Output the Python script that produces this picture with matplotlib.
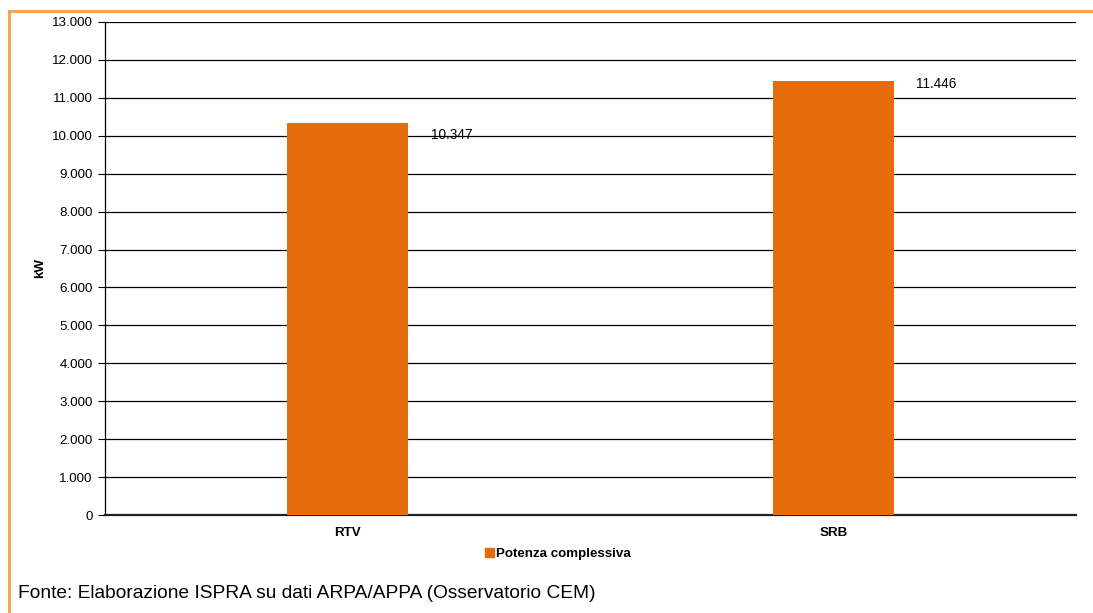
import matplotlib
matplotlib.use("Agg")
import matplotlib.pyplot as plt
from matplotlib.lines import Line2D
from matplotlib.patches import Rectangle

categories = ["RTV", "SRB"]
values = [10347, 11446]
value_labels = ["10.347", "11.446"]
series_name = "Potenza complessiva"
y_ticks = [0, 1000, 2000, 3000, 4000, 5000, 6000, 7000, 8000, 9000, 10000, 11000, 12000, 13000]
y_tick_labels = ["0", "1.000", "2.000", "3.000", "4.000", "5.000", "6.000", "7.000",
                 "8.000", "9.000", "10.000", "11.000", "12.000", "13.000"]
y_label = "kW"
source = "Fonte: Elaborazione ISPRA su dati ARPA/APPA (Osservatorio CEM)"

bar_color = "#E46C0A"
border_color = "#F9A54F"
label_dy = [-9, -2]  # points offset of value labels

plt.rcParams['font.family'] = ['Liberation Sans', 'DejaVu Sans']

fig = plt.figure(figsize=(10.93, 6.13), dpi=100)
ax = fig.add_axes([105/1093, 98/613, 971/1093, 493/613])

x = list(range(len(categories)))
bars = ax.bar(x, values, width=0.25, color=bar_color, zorder=3)
ax.set_xlim(-0.5, 1.5)
ax.set_ylim(0, 13000)
ax.set_yticks(y_ticks)
ax.set_yticklabels(y_tick_labels, fontsize=9.6)
ax.set_xticks(x)
ax.set_xticklabels(categories, fontsize=9.6, fontweight='bold')
ax.tick_params(axis='x', length=0, pad=9)
ax.tick_params(axis='y', length=5, direction='out', width=0.8, pad=4)
ax.yaxis.grid(True, color='black', linewidth=0.9, zorder=0)
ax.set_axisbelow(True)
for s in ['top', 'right']:
    ax.spines[s].set_visible(False)
ax.spines['left'].set_linewidth(0.9)
ax.spines['bottom'].set_linewidth(1.6)
ax.spines['bottom'].set_color('#222222')
ax.set_ylabel(y_label, fontsize=9.6, fontweight='bold')
ax.yaxis.set_label_coords(-0.061, 0.5)

for xi, v, lab, dy in zip(x, values, value_labels, label_dy):
    ax.annotate(lab, xy=(xi + 0.125, v), xytext=(16, dy), textcoords='offset points',
                ha='left', va='center', fontsize=9.8, zorder=4)

handle = Rectangle((0, 0), 1, 1, color=bar_color)
fig.legend([handle], [series_name], loc='center', bbox_to_anchor=(558/1093, 1 - 554/613),
           frameon=False, prop={'size': 9.6, 'weight': 'bold'},
           handlelength=0.7, handleheight=0.7, handletextpad=0.15)

fig.text(18/1093, 1 - 593/613, source, fontsize=13.8, va='center', ha='left')

# orange frame (top and left edges visible)
fig.add_artist(Line2D([8.5/1093, 8.5/1093], [0, 1 - 10.5/613], transform=fig.transFigure,
                      color=border_color, linewidth=2.2))
fig.add_artist(Line2D([8.5/1093, 1], [1 - 10.5/613, 1 - 10.5/613], transform=fig.transFigure,
                      color=border_color, linewidth=2.2))

fig.savefig("out.png", dpi=100)
